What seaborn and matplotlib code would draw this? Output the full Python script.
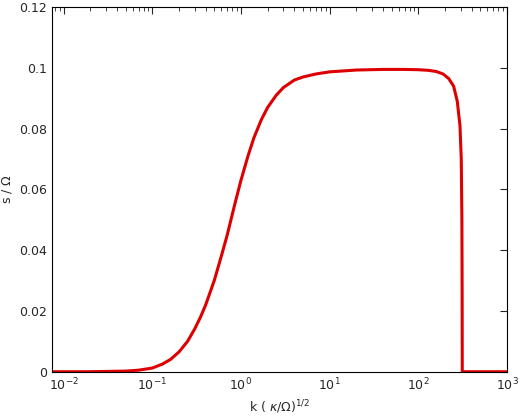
import matplotlib
matplotlib.use("Agg")
import matplotlib.pyplot as plt
import seaborn as sns
import pandas as pd
from matplotlib.ticker import FixedLocator, FuncFormatter, LogLocator, NullFormatter

# values
k_vals = [0.0074, 0.02, 0.05, 0.07, 0.1, 0.13, 0.16, 0.2, 0.25, 0.3, 0.35, 0.4,
          0.5, 0.6, 0.7, 0.85, 1.0, 1.2, 1.4, 1.7, 2.0, 2.5, 3.0, 4.0, 5.0, 7.0,
          10.0, 20.0, 40.0, 70.0, 100.0, 130.0, 160.0, 190.0, 220.0, 250.0,
          275.0, 295.0, 305.0, 310.0, 312.0, 313.0, 1000.0]
s_vals = [0.0, 0.0, 0.0002, 0.0005, 0.0012, 0.0025, 0.004, 0.0065, 0.010, 0.014,
          0.018, 0.022, 0.030, 0.038, 0.045, 0.055, 0.063, 0.071, 0.077, 0.083,
          0.087, 0.091, 0.0935, 0.096, 0.097, 0.098, 0.0987, 0.0993, 0.0995,
          0.0995, 0.0994, 0.0992, 0.0988, 0.098, 0.0965, 0.094, 0.089, 0.081,
          0.070, 0.050, 0.025, 0.0, 0.0]

df = pd.DataFrame({"k": k_vals, "s": s_vals})

sns.set_style("white")
plt.rcParams['font.family'] = ['DejaVu Sans']

fig, ax = plt.subplots(figsize=(5.2, 4.2), dpi=100)
sns.lineplot(data=df, x="k", y="s", ax=ax, color="#dd0000", linewidth=2.2)
ax.set_xscale("log")
ax.set_xlim(0.0074, 1000)
ax.set_ylim(0, 0.12)
ax.yaxis.set_major_locator(FixedLocator([0, 0.02, 0.04, 0.06, 0.08, 0.1, 0.12]))
ax.yaxis.set_major_formatter(FuncFormatter(lambda v, p: "0" if v == 0 else f"{v:g}"))
ax.xaxis.set_major_locator(LogLocator(base=10))
ax.xaxis.set_minor_locator(LogLocator(base=10, subs=range(2, 10)))
ax.xaxis.set_minor_formatter(NullFormatter())
ax.tick_params(which="both", direction="in", top=True, right=True, labelsize=9)
ax.tick_params(which="major", length=5)
ax.tick_params(which="minor", length=3)
for sp in ax.spines.values():
    sp.set_color("black")
    sp.set_linewidth(0.8)
ax.set_xlabel(r"k ( $\kappa$/$\Omega$)$^{1/2}$", fontsize=9)
ax.set_ylabel(r"s / $\Omega$", fontsize=9)
fig.subplots_adjust(left=0.1, right=0.975, top=0.983, bottom=0.115)
fig.savefig("out.png", dpi=100)
